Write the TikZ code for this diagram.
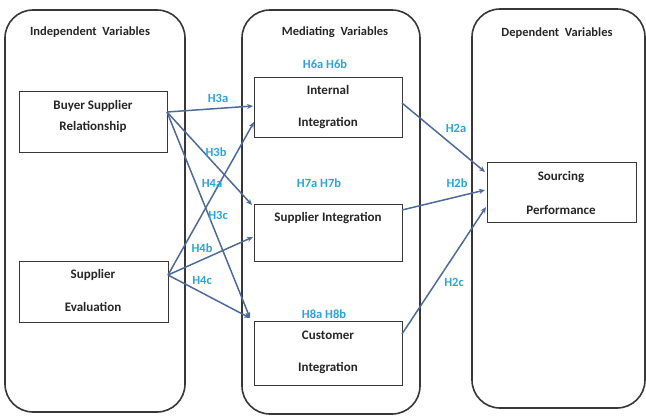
\documentclass[tikz,border=0pt]{standalone}
\usepackage{fontspec}
\setmainfont{Carlito}
\usetikzlibrary{arrows.meta}
\definecolor{linec}{RGB}{78,106,152}
\definecolor{labc}{RGB}{40,165,222}
\definecolor{framec}{RGB}{55,55,55}
\tikzset{
  panel/.style={draw=framec, line width=1.6pt, rounded corners=28pt},
  varbox/.style={draw=framec, line width=0.9pt, fill=white},
  title/.style={font=\bfseries\fontsize{12.5}{14}\selectfont, text=black!85},
  btext/.style={font=\bfseries\fontsize{13}{15}\selectfont, text=black!85},
  hlab/.style={font=\bfseries\fontsize{12.5}{14}\selectfont, text=labc},
  conn/.style={draw=linec, line width=1.5pt, -{Stealth[length=6pt,width=5pt]}},
}
\begin{document}
\begin{tikzpicture}[x=1pt,y=-1pt]
\useasboundingbox (0,0) rectangle (646,418);
% panels
\draw[panel] (5,10) rectangle (185,412);
\draw[panel] (242,10) rectangle (420,414);
\draw[panel] (472,9) rectangle (645,408);
\node[title] (t1) at (90,32) {Independent\ \ Variables};
\node[title] (t2) at (335,32) {Mediating\ \ Variables};
\node[title] (t3) at (557,33) {Dependent\ \ Variables};
% boxes
\draw[varbox] (19,91) rectangle (167,152);
\node[btext] (bsr1) at (93,106) {Buyer Supplier};
\node[btext] (bsr2) at (93,127) {Relationship};
\draw[varbox] (19,261) rectangle (168,322);
\node[btext] (se1) at (93,275) {Supplier};
\node[btext] (se2) at (93,307) {Evaluation};
\draw[varbox] (254,77) rectangle (402,137);
\node[btext] (ii1) at (328,90) {Internal};
\node[btext] (ii2) at (328,123) {Integration};
\draw[varbox] (254,204) rectangle (402,261);
\node[btext] (si1) at (328,218) {Supplier Integration};
\draw[varbox] (254,321) rectangle (402,385);
\node[btext] (ci1) at (328,335) {Customer};
\node[btext] (ci2) at (328,368) {Integration};
\draw[varbox] (487,162) rectangle (636,222);
\node[btext] (sp1) at (561,177) {Sourcing};
\node[btext] (sp2) at (561,210) {Performance};
% anchor coordinates
\coordinate (bsrR) at (167,112);
\coordinate (seR) at (168,275);
\coordinate (iiL1) at (253,106);
\coordinate (iiL2) at (254,122);
\coordinate (siL1) at (252,205);
\coordinate (siL2) at (253,237);
\coordinate (ciL) at (250,318);
\coordinate (iiR) at (402,103);
\coordinate (siR) at (402,210);
\coordinate (ciR) at (402,334);
\coordinate (spL1) at (485,172);
\coordinate (spL2) at (485,190);
\coordinate (spL3) at (486,207);
% connectors
\draw[conn] (bsrR) -- (iiL1);
\draw[conn] (bsrR) -- (siL1);
\draw[conn] (bsrR) -- (ciL);
\draw[conn] (seR) -- (iiL2);
\draw[conn] (seR) -- (siL2);
\draw[conn] (seR) -- (ciL);
\draw[conn] (iiR) -- (spL1);
\draw[conn] (siR) -- (spL2);
\draw[conn] (ciR) -- (spL3);
% labels
\node[hlab] (h6) at (325,64) {H6a H6b};
\node[hlab] (h7) at (319,183) {H7a H7b};
\node[hlab] (h8) at (324,314) {H8a H8b};
\node[hlab] (h3a) at (218,98) {H3a};
\node[hlab] (h3b) at (216,152) {H3b};
\node[hlab] (h4a) at (212,183) {H4a};
\node[hlab] (h3c) at (218,215) {H3c};
\node[hlab] (h4b) at (202,248) {H4b};
\node[hlab] (h4c) at (202,280) {H4c};
\node[hlab] (h2a) at (456,128) {H2a};
\node[hlab] (h2b) at (457,183) {H2b};
\node[hlab] (h2c) at (454,282) {H2c};
\end{tikzpicture}
\end{document}
